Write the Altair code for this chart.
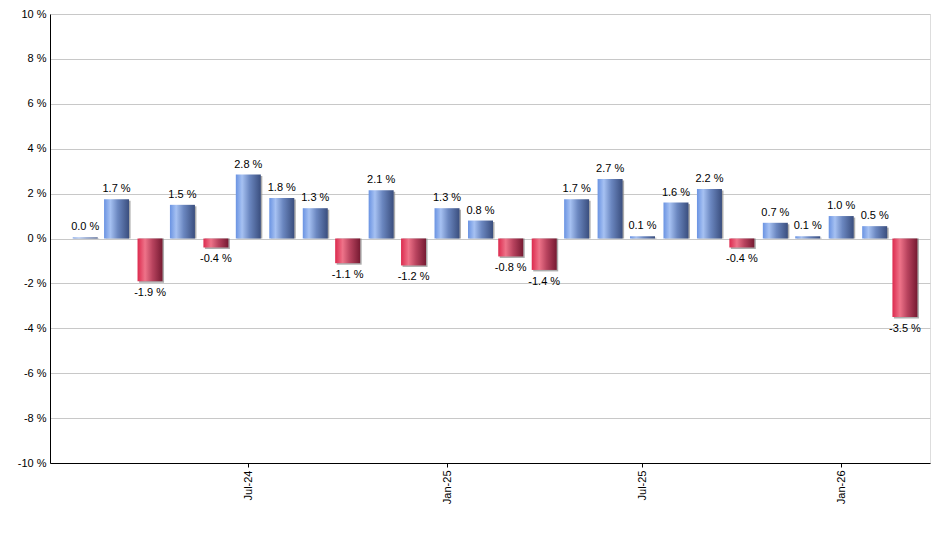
import altair as alt
import pandas as pd

months = ["2024-02-01", "2024-03-01", "2024-04-01", "2024-05-01", "2024-06-01", "2024-07-01",
          "2024-08-01", "2024-09-01", "2024-10-01", "2024-11-01", "2024-12-01", "2025-01-01",
          "2025-02-01", "2025-03-01", "2025-04-01", "2025-05-01", "2025-06-01", "2025-07-01",
          "2025-08-01", "2025-09-01", "2025-10-01", "2025-11-01", "2025-12-01", "2026-01-01",
          "2026-02-01", "2026-03-01"]
values = [0.05, 1.75, -1.9, 1.5, -0.4, 2.85, 1.8, 1.35, -1.1, 2.15, -1.2, 1.35,
          0.8, -0.8, -1.4, 1.75, 2.65, 0.1, 1.6, 2.2, -0.4, 0.7, 0.1, 1.0, 0.55, -3.5]
labels = ["0.0 %", "1.7 %", "-1.9 %", "1.5 %", "-0.4 %", "2.8 %", "1.8 %", "1.3 %", "-1.1 %",
          "2.1 %", "-1.2 %", "1.3 %", "0.8 %", "-0.8 %", "-1.4 %", "1.7 %", "2.7 %", "0.1 %",
          "1.6 %", "2.2 %", "-0.4 %", "0.7 %", "0.1 %", "1.0 %", "0.5 %", "-3.5 %"]
tick_dates = ["2024-07-01", "2025-01-01", "2025-07-01", "2026-01-01"]

df = pd.DataFrame({"month": months, "value": values, "label": labels})

FONT = "Liberation Sans"

xscale = alt.Scale(domain=["2024-01-04T00:00:00", "2026-03-19T14:00:00"])
yscale = alt.Scale(domain=[-10, 10], nice=False)

x = alt.X("month:T", scale=xscale,
          axis=alt.Axis(values=tick_dates, format="%b-%y", labelAngle=270, labelAlign="right",
                        labelBaseline="middle", labelPadding=3, grid=False, ticks=True,
                        tickSize=4, tickColor="black", domainColor="black", labelColor="black",
                        labelFont=FONT, labelFontSize=11, title=None))
y = alt.Y("value:Q", scale=yscale,
          axis=alt.Axis(values=list(range(-10, 11, 2)), labelExpr="datum.value + ' %'",
                        grid=True, gridColor="#c8c8c8", ticks=False, domainColor="black",
                        labelColor="black", labelFont=FONT, labelFontSize=11, labelPadding=4,
                        title=None))

base = alt.Chart(df)

blue = alt.Gradient(gradient="linear", x1=0, x2=1, y1=0, y2=0,
                    stops=[alt.GradientStop(offset=0, color="#6a93e2"),
                           alt.GradientStop(offset=0.25, color="#a6c1f2"),
                           alt.GradientStop(offset=0.55, color="#6b87c0"),
                           alt.GradientStop(offset=1, color="#3a4e7e")])
red = alt.Gradient(gradient="linear", x1=0, x2=1, y1=0, y2=0,
                   stops=[alt.GradientStop(offset=0, color="#dc2a4e"),
                          alt.GradientStop(offset=0.3, color="#ee7389"),
                          alt.GradientStop(offset=0.6, color="#b8435e"),
                          alt.GradientStop(offset=1, color="#761a32")])

shadow = base.mark_bar(width=25, color="#8a8a8a", opacity=0.7, xOffset=1.5, yOffset=1.5).encode(
    x=x, y=y, y2=alt.datum(0))
pos_bars = base.transform_filter("datum.value >= 0").mark_bar(width=25, color=blue).encode(
    x=x, y=y, y2=alt.datum(0))
neg_bars = base.transform_filter("datum.value < 0").mark_bar(width=25, color=red).encode(
    x=x, y=y, y2=alt.datum(0))

pos_text = base.transform_filter("datum.value >= 0").mark_text(
    dy=-10, font=FONT, fontSize=11, color="black").encode(x=x, y=y, text="label:N")
neg_text = base.transform_filter("datum.value < 0").mark_text(
    dy=12, font=FONT, fontSize=11, color="black").encode(x=x, y=y, text="label:N")

chart = alt.layer(shadow, pos_bars, neg_bars, pos_text, neg_text).properties(
    width=880, height=449,
    autosize=alt.AutoSizeParams(type="none"),
    padding={"left": 42, "top": 6, "right": 2, "bottom": 60},
).configure_view(stroke=None).configure(background="white")

chart.save("out.html", embed_options={"renderer": "svg", "actions": False})
